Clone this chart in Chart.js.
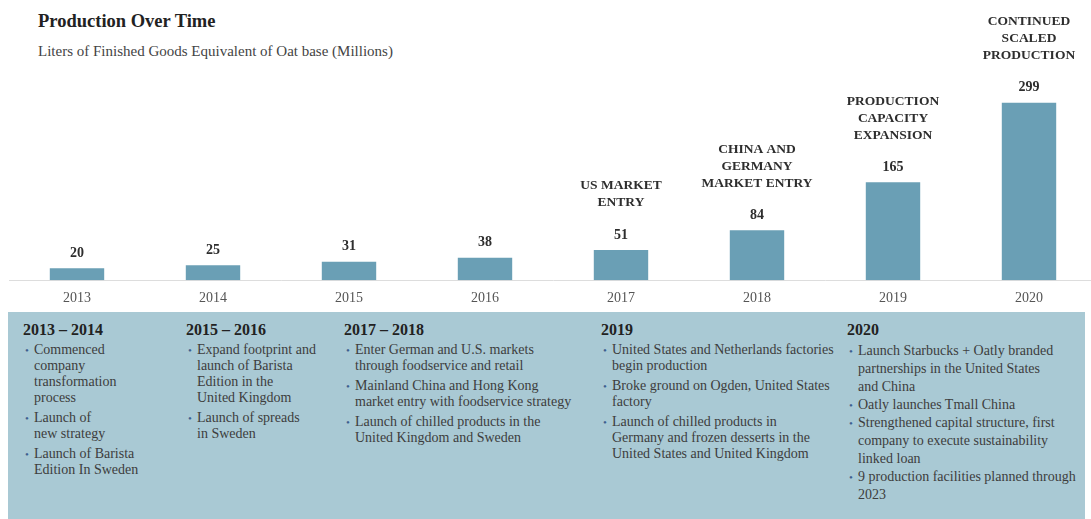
<!DOCTYPE html>
<html>
<head>
<meta charset="utf-8">
<script src="https://cdn.jsdelivr.net/npm/chart.js@4"></script>
<style>
  html, body { margin: 0; padding: 0; background: #fff; width: 1091px; height: 519px; overflow: hidden; }
  body { position: relative; font-family: "Liberation Serif", "Times New Roman", serif; }
  #title { position: absolute; left: 38px; top: 11px; font-size: 18.5px; font-weight: bold; color: #222; }
  #subtitle { position: absolute; left: 38px; top: 43px; font-size: 15px; color: #444; }
  #wrap { position: absolute; left: 0; top: 0; width: 1100px; height: 317px; }
  #panel { position: absolute; left: 8px; top: 312px; width: 1077px; height: 207px; background: #a9c9d4; }
  .col { position: absolute; top: 9px; color: #3d3d3d; font-size: 14px; }
  .col h3 { margin: 0; font-size: 16px; line-height: 18px; color: #222; font-weight: bold; }
  .col ul { list-style: none; margin: 3px 0 0 0; padding: 0 0 0 11px; }
  .col li { position: relative; line-height: 16px; margin-bottom: 4px; white-space: nowrap; }
  .col li::before { content: "\2022"; position: absolute; left: -9px; top: 0; color: #3f5f8f; font-size: 11px; }
  .col.tight li { line-height: 18px; margin-bottom: 0; }
</style>
</head>
<body>
<div id="title">Production Over Time</div>
<div id="subtitle">Liters of Finished Goods Equivalent of Oat base (Millions)</div>
<div id="wrap"><canvas id="productionChart"></canvas></div>

<div id="panel">
  <div class="col" style="left:15px">
    <h3>2013 – 2014</h3>
    <ul>
      <li>Commenced<br>company<br>transformation<br>process</li>
      <li>Launch of<br>new strategy</li>
      <li>Launch of Barista<br>Edition In Sweden</li>
    </ul>
  </div>
  <div class="col" style="left:178px">
    <h3>2015 – 2016</h3>
    <ul>
      <li>Expand footprint and<br>launch of Barista<br>Edition in the<br>United Kingdom</li>
      <li>Launch of spreads<br>in Sweden</li>
    </ul>
  </div>
  <div class="col" style="left:336px">
    <h3>2017 – 2018</h3>
    <ul>
      <li>Enter German and U.S. markets<br>through foodservice and retail</li>
      <li>Mainland China and Hong Kong<br>market entry with foodservice strategy</li>
      <li>Launch of chilled products in the<br>United Kingdom and Sweden</li>
    </ul>
  </div>
  <div class="col" style="left:593px">
    <h3>2019</h3>
    <ul>
      <li>United States and Netherlands factories<br>begin production</li>
      <li>Broke ground on Ogden, United States<br>factory</li>
      <li>Launch of chilled products in<br>Germany and frozen desserts in the<br>United States and United Kingdom</li>
    </ul>
  </div>
  <div class="col tight" style="left:839px">
    <h3>2020</h3>
    <ul>
      <li>Launch Starbucks + Oatly branded<br>partnerships in the United States<br>and China</li>
      <li>Oatly launches Tmall China</li>
      <li>Strengthened capital structure, first<br>company to execute sustainability<br>linked loan</li>
      <li>9 production facilities planned through<br>2023</li>
    </ul>
  </div>
</div>

<script>
// chart data
const years = ['2013', '2014', '2015', '2016', '2017', '2018', '2019', '2020'];
const liters = [20, 25, 31, 38, 51, 84, 165, 299];
const milestones = [
    [],
    [],
    [],
    [],
    ['US MARKET', 'ENTRY'],
    ['CHINA AND', 'GERMANY', 'MARKET ENTRY'],
    ['PRODUCTION', 'CAPACITY', 'EXPANSION'],
    ['CONTINUED', 'SCALED', 'PRODUCTION']
];

const barColor = '#6a9fb5';

// draws the value above each bar and the milestone text above that
const barLabels = {
    id: 'barLabels',
    afterDatasetsDraw(chart) {
        const ctx = chart.ctx;
        const meta = chart.getDatasetMeta(0);
        ctx.save();
        ctx.textAlign = 'center';
        ctx.textBaseline = 'middle';
        ctx.fillStyle = '#2e2e2e';
        meta.data.forEach((bar, i) => {
            ctx.font = 'bold 14px "Liberation Serif", serif';
            ctx.fillText(liters[i], bar.x, bar.y - 15);
            ctx.font = 'bold 13.5px "Liberation Serif", serif';
            const lines = milestones[i];
            lines.forEach((line, j) => {
                const fromBottom = lines.length - 1 - j;
                ctx.fillText(line, bar.x, bar.y - 47 - fromBottom * 17);
            });
        });
        ctx.restore();
    }
};

const ctx = document.getElementById('productionChart').getContext('2d');
const productionChart = new Chart(ctx, {
    type: 'bar',
    data: {
        labels: years,
        datasets: [{
            label: 'Liters (Millions)',
            data: liters,
            backgroundColor: barColor,
            categoryPercentage: 1,
            barPercentage: 0.4
        }]
    },
    options: {
        responsive: true,
        maintainAspectRatio: false,
        animation: false,
        layout: {
            padding: { left: 9, right: 3, top: 0, bottom: 0 }
        },
        plugins: {
            legend: { display: false },
            tooltip: { enabled: false }
        },
        scales: {
            x: {
                grid: { display: false, drawTicks: false },
                border: { display: true, color: '#dddddd', width: 1 },
                ticks: {
                    padding: 10,
                    color: '#555',
                    font: { family: '"Liberation Serif", serif', size: 14 }
                }
            },
            y: {
                display: false,
                min: 0,
                max: 472
            }
        }
    },
    plugins: [barLabels]
});
</script>
</body>
</html>
